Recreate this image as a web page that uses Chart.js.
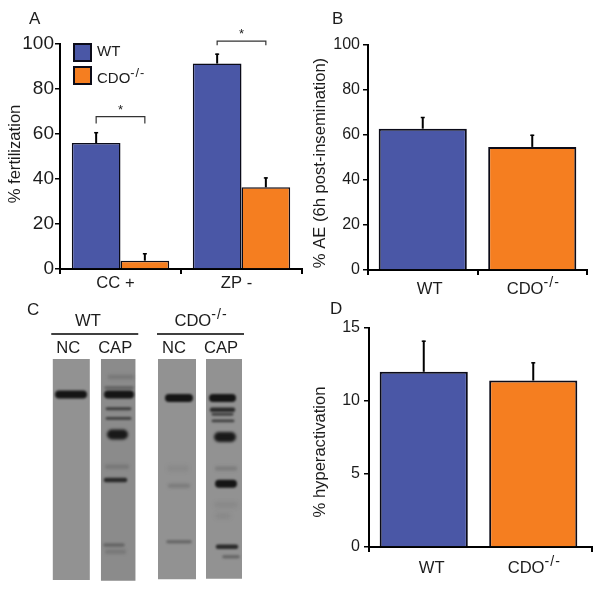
<!DOCTYPE html>
<html>
<head>
<meta charset="utf-8">
<script src="https://cdn.jsdelivr.net/npm/chart.js@4"></script>
<style>
  html, body { margin: 0; padding: 0; background: #fff; }
  body { width: 601px; height: 589px; position: relative; overflow: hidden; }
  canvas { position: absolute; }
</style>
</head>
<body>
<canvas id="panelA" width="303" height="295" style="left:0;top:0"></canvas>
<canvas id="panelB" width="298" height="295" style="left:303px;top:0"></canvas>
<canvas id="panelC" width="300" height="294" style="left:0;top:295px"></canvas>
<canvas id="panelD" width="298" height="294" style="left:303px;top:295px"></canvas>
<script>
/* ── Data ───────────────────────────────────────────────────── */

const groupsA = ["CC +", "ZP -"];
const wtA     = [56, 91.3];
const wtErrA  = [4.8, 4.4];
const cdoA    = [3.7, 36.3];
const cdoErrA = [3.3, 4.4];
const bracketLevelA = [67.7, 101.3];
const bracketDropA  = [3, 1.8];

const groupsB = ["WT", "CDO^-/-"];
const valuesB = [62.8, 54.7];
const errB    = [5.2, 5.4];

const groupsD = ["WT", "CDO^-/-"];
const valuesD = [12, 11.4];
const errD    = [2.13, 1.25];

// Blot: x in units along the membrane, y as % of the way down the lane
const laneCenters = [71.3, 118.2, 177, 224];
const laneWidths  = [37, 34.5, 38, 36];
const laneEnds    = [100, 100.3, 99.7, 99.4];

// [y, from, to, level]
const bands = [
  [16.1, 59, 83, "heavy"],
  [8.2, 110, 132, "ghost"],
  [13, 106, 132, "soft"],
  [16.1, 108, 130, "heavy"],
  [22.5, 107, 130, "mid"],
  [26.9, 107, 130, "mid"],
  [34.2, 112, 123, "block"],
  [48.8, 107, 127, "ghost"],
  [54.8, 106, 125, "dark"],
  [84.2, 105, 123, "soft"],
  [87.2, 107, 124, "ghost"],
  [17.6, 169, 189, "heavy"],
  [49.5, 170, 186, "trace"],
  [57.3, 170, 188, "ghost"],
  [82.7, 168, 190, "soft"],
  [17.6, 213, 232, "heavy"],
  [23, 212, 233, "dark"],
  [25, 213, 232, "mid"],
  [28, 213, 233, "mid"],
  [35.3, 219, 231, "block"],
  [49.5, 217, 235, "ghost"],
  [56.5, 219, 233, "heavy"],
  [66, 217, 235, "trace"],
  [71, 218, 228, "trace"],
  [84.9, 218, 236, "dark"],
  [89.5, 224, 238, "soft"],
];

/* ── Styles ─────────────────────────────────────────────────── */

const BLUE = "#4a57a6";
const ORANGE = "#f57e20";
const INK = "#1c1c1c";
const FONT = '"Liberation Sans", Arial, sans-serif';
const TEXT_SIZE = 16.6;

const bandStyles = {
  block: { width: 10,  color: "rgba(15,15,15,0.92)", blur: 1.6 },
  heavy: { width: 8,   color: "rgba(15,15,15,0.95)", blur: 1.3 },
  dark:  { width: 4.5, color: "rgba(25,25,25,0.85)", blur: 1.1 },
  mid:   { width: 2.8, color: "rgba(30,30,30,0.7)",  blur: 1 },
  soft:  { width: 3.5, color: "rgba(50,50,50,0.42)", blur: 1.3 },
  ghost: { width: 4.5, color: "rgba(60,60,60,0.24)", blur: 1.6 },
  trace: { width: 5.5, color: "rgba(70,70,70,0.13)", blur: 2 },
};

/* ── Helpers ────────────────────────────────────────────────── */

// "CDO^-/-" is drawn as CDO with a raised -/-
function supText(ctx, text, x, y, size, centered) {
  const [base, sup] = text.split("^");
  ctx.font = `${size}px ${FONT}`;
  const w = ctx.measureText(base).width;
  let supW = 0;
  if (sup) {
    ctx.font = `${size * 0.85}px ${FONT}`;
    ctx.letterSpacing = "1px";
    supW = ctx.measureText(sup).width;
    ctx.letterSpacing = "0px";
  }
  const left = centered ? x - (w + supW) / 2 : x;
  ctx.textAlign = "left";
  ctx.textBaseline = "alphabetic";
  ctx.font = `${size}px ${FONT}`;
  ctx.fillText(base, left, y);
  if (sup) {
    ctx.font = `${size * 0.85}px ${FONT}`;
    ctx.letterSpacing = "1px";
    ctx.fillText(sup, left + w, y - size * 0.42);
    ctx.letterSpacing = "0px";
  }
}

const decor = {
  id: "decor",
  afterDatasetsDraw(chart, _args, opts) {
    const { ctx, scales, chartArea } = chart;
    ctx.save();
    ctx.fillStyle = INK;
    ctx.strokeStyle = "#000";

    // Error bars, upper arm only
    chart.data.datasets.forEach((ds, i) => {
      chart.getDatasetMeta(i).data.forEach((bar, j) => {
        const top = scales.y.getPixelForValue(ds.data[j] + ds.errors[j]);
        ctx.lineWidth = 2;
        ctx.beginPath();
        ctx.moveTo(bar.x, bar.y);
        ctx.lineTo(bar.x, top);
        ctx.stroke();
        ctx.lineWidth = 1.5;
        ctx.beginPath();
        ctx.moveTo(bar.x - 2, top + 0.5);
        ctx.lineTo(bar.x + 2, top + 0.5);
        ctx.stroke();
      });
    });

    // Group labels under the x axis
    chart.data.labels.forEach((label, i) => {
      const x = scales.x.getPixelForValue(i) + (opts.labelShift[i] || 0);
      supText(ctx, label, x, chartArea.bottom + opts.labelDrop, TEXT_SIZE, true);
    });

    // Rotated y axis title
    ctx.save();
    ctx.translate(opts.titleX, opts.titleY);
    ctx.rotate(-Math.PI / 2);
    ctx.font = `${TEXT_SIZE}px ${FONT}`;
    ctx.textAlign = "center";
    ctx.textBaseline = "middle";
    ctx.fillText(opts.title, 0, 0);
    ctx.restore();

    // Panel letter
    ctx.font = `17px ${FONT}`;
    ctx.textAlign = "left";
    ctx.textBaseline = "alphabetic";
    ctx.fillText(opts.letter, opts.letterX, opts.letterY);

    if (opts.extra) opts.extra(chart);
    ctx.restore();
  },
};

function barOptions(cfg) {
  return {
    responsive: false,
    animation: false,
    layout: { padding: { top: cfg.top, right: cfg.right, left: 0, bottom: 0 } },
    plugins: { legend: { display: false }, tooltip: { enabled: false }, decor: cfg.decor },
    scales: {
      x: {
        z: 1,
        afterFit: s => { s.height = cfg.xHeight; },
        grid: {
          offset: true,
          drawOnChartArea: false,
          tickLength: 5,
          lineWidth: 2,
          color: cfg.xTickColor || "#000",
        },
        border: { color: "#000", width: 2 },
        ticks: { display: false },
      },
      y: {
        min: 0,
        max: cfg.max,
        afterFit: s => { s.width = cfg.yWidth; },
        grid: { drawOnChartArea: false, tickLength: 5, lineWidth: 1.5, color: "#000" },
        border: { color: "#000", width: 2 },
        ticks: {
          stepSize: cfg.step,
          color: INK,
          padding: cfg.tickPad,
          font: { family: FONT, size: cfg.tickSize },
        },
      },
    },
  };
}

function barDefaults(extra) {
  return Object.assign({
    borderColor: "#0b0b18",
    borderWidth: 2,
    borderSkipped: "bottom",
    categoryPercentage: 0.805,
    barPercentage: 1,
  }, extra);
}

/* ── Panel A ────────────────────────────────────────────────── */

function drawExtrasA(chart) {
  const { ctx, scales } = chart;
  const wtBars = chart.getDatasetMeta(0).data;
  const cdoBars = chart.getDatasetMeta(1).data;

  groupsA.forEach((_, i) => {
    const y = scales.y.getPixelForValue(bracketLevelA[i]);
    const drop = scales.y.getPixelForValue(bracketLevelA[i] - bracketDropA[i]);
    ctx.strokeStyle = "#333";
    ctx.lineWidth = 1.2;
    ctx.beginPath();
    ctx.moveTo(wtBars[i].x, drop);
    ctx.lineTo(wtBars[i].x, y);
    ctx.lineTo(cdoBars[i].x, y);
    ctx.lineTo(cdoBars[i].x, drop);
    ctx.stroke();
    ctx.font = `13px ${FONT}`;
    ctx.textAlign = "center";
    ctx.textBaseline = "alphabetic";
    ctx.fillText("*", (wtBars[i].x + cdoBars[i].x) / 2, y - 3);
  });

  // Legend
  [["WT", BLUE, 43, 56], ["CDO^-/-", ORANGE, 66, 83]].forEach(([name, colour, top, base]) => {
    ctx.fillStyle = colour;
    ctx.strokeStyle = "#0b0b18";
    ctx.lineWidth = 2;
    ctx.fillRect(74, top + 1, 17, 17);
    ctx.strokeRect(74, top + 1, 17, 17);
    ctx.fillStyle = INK;
    supText(ctx, name, 97, base, 15, false);
  });
}

new Chart(document.getElementById("panelA"), {
  type: "bar",
  data: {
    labels: groupsA,
    datasets: [
      barDefaults({ label: "WT", data: wtA, errors: wtErrA, backgroundColor: BLUE, borderWidth: 1.5 }),
      barDefaults({ label: "CDO-/-", data: cdoA, errors: cdoErrA, backgroundColor: ORANGE, borderWidth: 1.5 }),
    ],
  },
  options: barOptions({
    top: 44, right: 1, xHeight: 26, yWidth: 60, max: 100, step: 20, tickPad: 1, tickSize: 19,
    decor: {
      labelShift: [-5, -5], labelDrop: 19,
      title: "% fertilization", titleX: 15, titleY: 154,
      letter: "A", letterX: 29, letterY: 24, extra: drawExtrasA,
    },
  }),
  plugins: [decor],
});

/* ── Panel B ────────────────────────────────────────────────── */

new Chart(document.getElementById("panelB"), {
  type: "bar",
  data: {
    labels: groupsB,
    datasets: [barDefaults({ data: valuesB, errors: errB, backgroundColor: [BLUE, ORANGE] })],
  },
  options: barOptions({
    top: 45, right: 14, xHeight: 25, yWidth: 65, max: 100, step: 20, tickPad: 3, tickSize: 16,
    decor: {
      labelShift: [7, 1], labelDrop: 24,
      title: "% AE (6h post-insemination)", titleX: 17, titleY: 163,
      letter: "B", letterX: 29, letterY: 24,
    },
  }),
  plugins: [decor],
});

/* ── Panel D ────────────────────────────────────────────────── */

function drawExtrasD(chart) {
  // x axis runs on a little past the last category
  const { ctx, chartArea } = chart;
  ctx.strokeStyle = "#000";
  ctx.lineWidth = 2;
  ctx.beginPath();
  ctx.moveTo(chartArea.right, chartArea.bottom);
  ctx.lineTo(chartArea.right + 4, chartArea.bottom);
  ctx.lineTo(chartArea.right + 4, chartArea.bottom + 5);
  ctx.stroke();
}

new Chart(document.getElementById("panelD"), {
  type: "bar",
  data: {
    labels: groupsD,
    datasets: [barDefaults({ data: valuesD, errors: errD, backgroundColor: [BLUE, ORANGE] })],
  },
  options: barOptions({
    top: 33, right: 13, xHeight: 42, yWidth: 66, max: 15, step: 5, tickPad: 4, tickSize: 16,
    xTickColor: ctx => (ctx.index === 0 ? "#000" : "rgba(0,0,0,0)"),
    decor: {
      labelShift: [8, 1], labelDrop: 26,
      title: "% hyperactivation", titleX: 17, titleY: 157,
      letter: "D", letterX: 27, letterY: 19, extra: drawExtrasD,
    },
  }),
  plugins: [decor],
});

/* ── Panel C (blot) ─────────────────────────────────────────── */

const blotFilter = {
  id: "blotFilter",
  beforeDatasetDraw(chart, args) {
    const blur = chart.data.datasets[args.index].blur;
    chart.ctx.save();
    if (blur) chart.ctx.filter = `blur(${blur}px)`;
  },
  afterDatasetDraw(chart) {
    chart.ctx.restore();
  },
  afterDatasetsDraw(chart) {
    const { ctx, scales } = chart;
    const mid = (a, b) => (scales.x.getPixelForValue(laneCenters[a]) + scales.x.getPixelForValue(laneCenters[b])) / 2;
    ctx.save();
    ctx.fillStyle = INK;
    ctx.font = `17px ${FONT}`;
    ctx.textBaseline = "alphabetic";
    ctx.textAlign = "left";
    ctx.fillText("C", 27, 20);

    // Group headers with a rule under each pair of lanes
    supText(ctx, "WT", 88, 31, TEXT_SIZE, true);
    supText(ctx, "CDO^-/-", 201, 31, TEXT_SIZE, true);
    ctx.strokeStyle = "#000";
    ctx.lineWidth = 1.5;
    [[0, 1], [2, 3]].forEach(([a, b]) => {
      ctx.beginPath();
      ctx.moveTo(mid(a, b) - 43.5, 39);
      ctx.lineTo(mid(a, b) + 43.5, 39);
      ctx.stroke();
    });

    ["NC", "CAP", "NC", "CAP"].forEach((name, i) => {
      supText(ctx, name, scales.x.getPixelForValue(laneCenters[i]) - 3, 58, TEXT_SIZE, true);
    });
    ctx.restore();
  },
};

const laneSets = laneCenters.map((c, i) => ({
  data: [{ x: c, y: 0 }, { x: c, y: laneEnds[i] }],
  borderColor: i === 1 ? "#8b8b8b" : "#929292",
  borderWidth: laneWidths[i],
  borderCapStyle: "butt",
  pointRadius: 0,
  showLine: true,
  clip: false,
}));

const bandSets = bands.map(([y, from, to, level]) => ({
  data: [{ x: from, y }, { x: to, y }],
  borderColor: bandStyles[level].color,
  borderWidth: bandStyles[level].width,
  borderCapStyle: "round",
  blur: bandStyles[level].blur,
  pointRadius: 0,
  showLine: true,
  clip: false,
}));

// Chart.js paints the first dataset last, so the bands go in front of the lanes
new Chart(document.getElementById("panelC"), {
  type: "scatter",
  data: { datasets: bandSets.concat(laneSets) },
  options: {
    responsive: false,
    animation: false,
    layout: { padding: { top: 64, bottom: 9, left: 0, right: 0 } },
    plugins: { legend: { display: false }, tooltip: { enabled: false } },
    scales: {
      x: { type: "linear", min: 0, max: 300, display: false },
      y: { type: "linear", min: 0, max: 100, reverse: true, display: false },
    },
  },
  plugins: [blotFilter],
});
</script>
</body>
</html>
